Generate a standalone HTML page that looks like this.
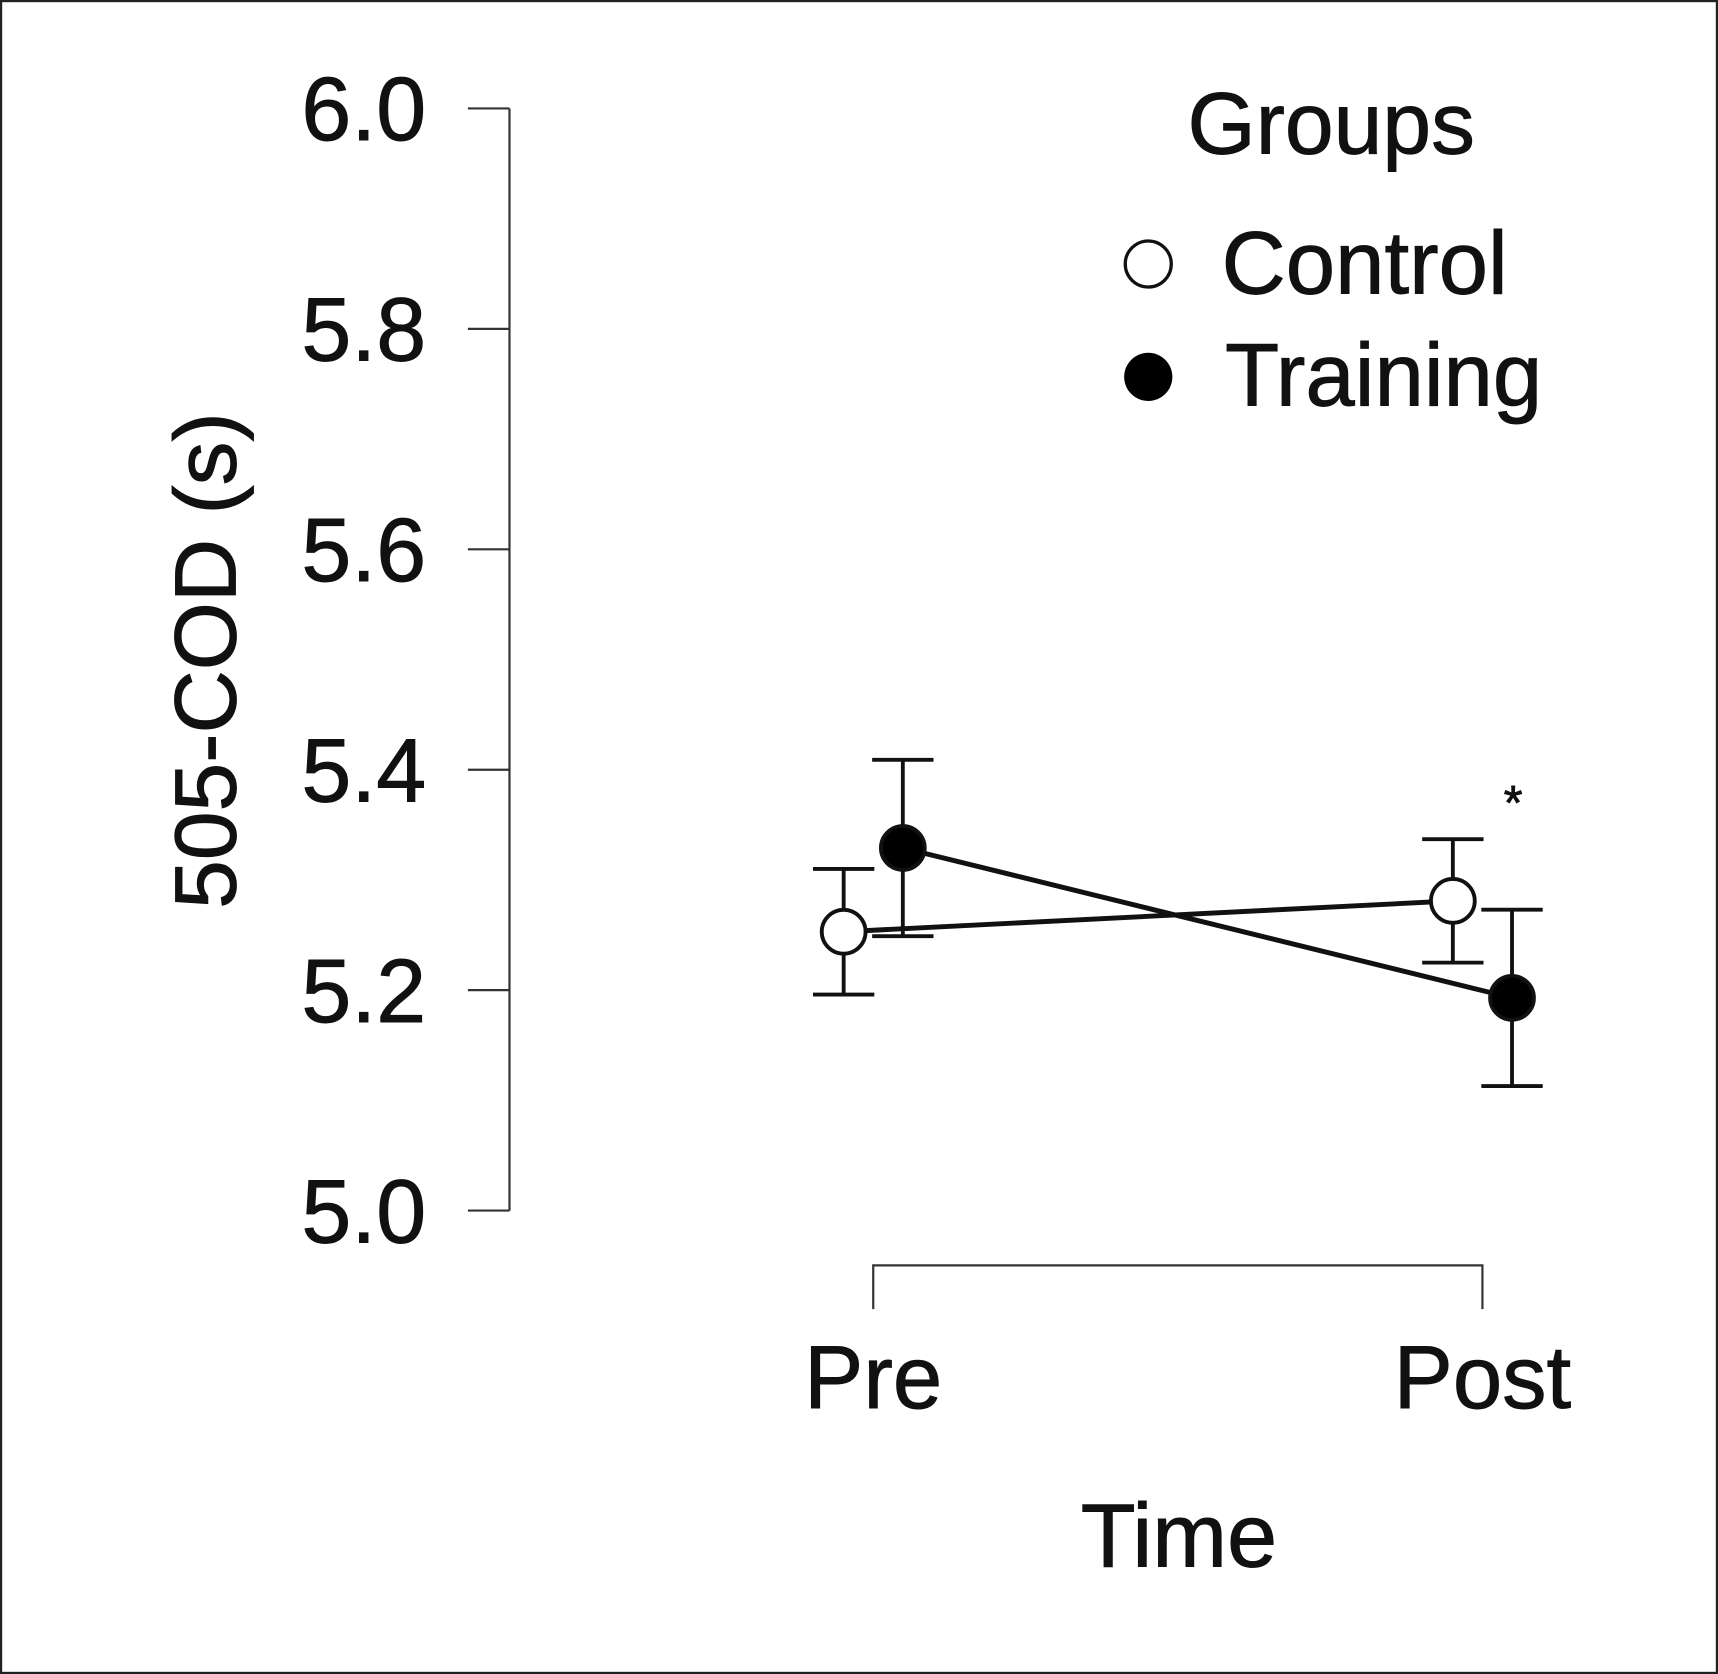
<!DOCTYPE html>
<html><head><meta charset="utf-8"><style>
html,body{margin:0;padding:0;background:#fff;}
svg{display:block;font-family:"Liberation Sans",Arial,sans-serif;}
text{stroke:#111;stroke-width:0.8;}
</style></head><body>
<svg id="chart" width="1718" height="1674" viewBox="0 0 1568 1528" preserveAspectRatio="none" xmlns="http://www.w3.org/2000/svg">
<rect x="1" y="1" width="1566" height="1526" fill="#fff" stroke="#222" stroke-width="2"/>
<g id="axes"></g>
<g id="marks"></g>
<text transform="translate(215,603) rotate(-90)" text-anchor="middle" font-size="80" fill="#111">505-COD (s)</text>
<text x="1076" y="1430" text-anchor="middle" font-size="82" fill="#111">Time</text>
<text x="1215" y="140" text-anchor="middle" font-size="80" fill="#111">Groups</text>
<circle cx="1048" cy="241" r="21" fill="#fff" stroke="#111" stroke-width="3"/>
<text x="1115" y="268" font-size="81" fill="#111">Control</text>
<circle cx="1048" cy="344" r="22" fill="#000"/>
<text x="1118" y="370" font-size="81" fill="#111">Training</text>
<text x="1381" y="748" text-anchor="middle" font-size="44" fill="#111">*</text>
</svg>
<script>
const yTicks=[5.0,5.2,5.4,5.6,5.8,6.0];
const yTickLabels=["5.0","5.2","5.4","5.6","5.8","6.0"];
const categories=["Pre","Post"];
const controlMeans=[5.253,5.281];
const controlErr=[0.057,0.056];
const trainingMeans=[5.329,5.193];
const trainingErr=[0.08,0.08];

const NS="http://www.w3.org/2000/svg";
const yMin=5.0,yMax=6.0,yTop=99,yBot=1105;
function yS(v){return yBot-(v-yMin)/(yMax-yMin)*(yBot-yTop);}
const xPos0=797,xPos1=1353;
function xS(i){return xPos0+i*(xPos1-xPos0)/(categories.length-1);}
function mk(tag,attrs,parent){const e=document.createElementNS(NS,tag);for(const k in attrs)e.setAttribute(k,attrs[k]);parent.appendChild(e);return e;}
const axes=document.getElementById('axes'),marks=document.getElementById('marks');
let ax=mk('line',{x1:465,x2:465,y1:yS(yMax),y2:yS(yMin),stroke:'#333','stroke-width':2},axes);


yTicks.forEach((t,i)=>{
 const l=mk('line',{x1:427,x2:465,y1:yS(t),y2:yS(t),stroke:'#333','stroke-width':2},axes);
 
 
 const tx=mk('text',{x:389,y:yS(t)+29,'text-anchor':'end','font-size':82,fill:'#111'},axes);
 tx.textContent=yTickLabels[i];
 
 
});
const br=mk('path',{d:`M${xS(0)},1195 V1155 H${xS(1)} V1195`,fill:'none',stroke:'#333','stroke-width':2},axes);


categories.forEach((c,i)=>{
 const tx=mk('text',{x:xS(i),y:1285,'text-anchor':'middle','font-size':81,fill:'#111'},axes);
 tx.textContent=c;
 
 
});
function series(means,errs,off,filled,name){
 const pts=means.map((m,i)=>[xS(i)+off,yS(m)]);
 const ln=mk('polyline',{points:pts.map(p=>p.join(',')).join(' '),fill:'none',stroke:'#111','stroke-width':4.5},marks);
 
 
 means.forEach((m,i)=>{
  const x=pts[i][0],t=yS(m+errs[i]),b=yS(m-errs[i]);
  const eb=mk('path',{d:`M${x-28},${t} H${x+28} M${x},${t} V${b} M${x-28},${b} H${x+28}`,fill:'none',stroke:'#111','stroke-width':3.5},marks);
  
  
 });
 means.forEach((m,i)=>{
  const c=mk('circle',{cx:pts[i][0],cy:pts[i][1],r:20,fill:filled?'#000':'#fff',stroke:'#111','stroke-width':3.5},marks);
  
  
 });
}
series(controlMeans,controlErr,-27,false,'control');
series(trainingMeans,trainingErr,27,true,'training');
</script>
</body></html>
